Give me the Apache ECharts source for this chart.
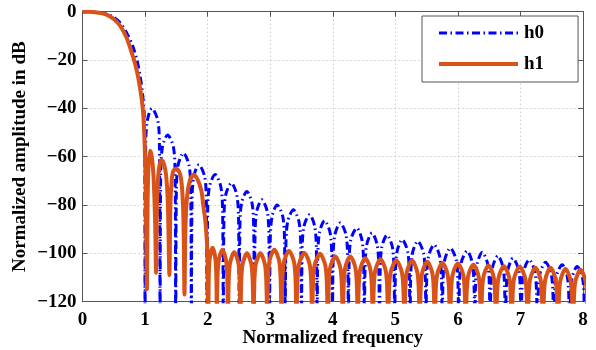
<!DOCTYPE html>
<html>
<head>
<meta charset="utf-8">
<script src="https://cdn.jsdelivr.net/npm/echarts@6/dist/echarts.min.js"></script>
<style>
html,body{margin:0;padding:0;background:#fff;}
#chart{width:596px;height:350px;}
</style>
</head>
<body>
<div id="chart"></div>
<script>
// ---- data ----
const seriesNames = ['h0', 'h1'];
const xRange = [0, 8];
const yRange = [-120, 0];

// h0 : [normalized frequency, dB]
const h0Points = [
  [0,0],[0.1,0],[0.2,-0.1],[0.3,-0.4],[0.4,-1.1],[0.5,-2.3],[0.6,-4.5],[0.7,-8.5],[0.8,-14],[0.87,-20],[0.92,-26.5],[0.96,-34],[0.985,-42],[0.995,-55],[1.0,-135],
  [1.0096,-56],[1.036,-45],[1.11,-40],[1.204,-45],[1.23,-56],[1.24,-135],
  [1.25,-67],[1.278,-56],[1.36,-51],[1.453,-56],[1.48,-67],[1.49,-135],
  [1.5,-74.5],[1.528,-63.5],[1.613,-58.5],[1.703,-63.5],[1.73,-74.5],[1.74,-135],
  [1.75,-79.3],[1.778,-68.3],[1.86,-63.3],[1.953,-68.3],[1.98,-79.3],[1.99,-135],
  [2.0,-83.4],[2.029,-72.4],[2.12,-67.4],[2.211,-72.4],[2.24,-83.4],[2.25,-135],
  [2.26,-86.9],[2.288,-75.9],[2.38,-70.9],[2.467,-75.9],[2.495,-86.9],[2.505,-135],
  [2.515,-90.4],[2.541,-79.4],[2.627,-74.4],[2.711,-79.4],[2.737,-90.4],[2.747,-135],
  [2.757,-93.8],[2.783,-82.8],[2.867,-77.8],[2.954,-82.8],[2.98,-93.8],[2.99,-135],
  [3.0,-96],[3.028,-85],[3.11,-80],[3.203,-85],[3.23,-96],[3.24,-135],
  [3.25,-98],[3.279,-87],[3.37,-82],[3.461,-87],[3.49,-98],[3.5,-135],
  [3.51,-100],[3.538,-89],[3.63,-84],[3.713,-89],[3.74,-100],[3.75,-135],
  [3.76,-102.5],[3.787,-91.5],[3.87,-86.5],[3.958,-91.5],[3.985,-102.5],[3.995,-135],
  [4.005,-103.4],[4.033,-92.4],[4.12,-87.4],[4.212,-92.4],[4.24,-103.4],[4.25,-135],
  [4.26,-105.5],[4.288,-94.5],[4.385,-89.5],[4.467,-94.5],[4.495,-105.5],[4.505,-135],
  [4.515,-107.6],[4.541,-96.6],[4.627,-91.6],[4.711,-96.6],[4.737,-107.6],[4.747,-135],
  [4.757,-108.5],[4.783,-97.5],[4.867,-92.5],[4.954,-97.5],[4.98,-108.5],[4.99,-135],
  [5.0,-110.3],[5.027,-99.3],[5.11,-94.3],[5.198,-99.3],[5.225,-110.3],[5.235,-135],
  [5.245,-111],[5.273,-100],[5.36,-95],[5.452,-100],[5.48,-111],[5.49,-135],
  [5.5,-112.4],[5.529,-101.4],[5.62,-96.4],[5.711,-101.4],[5.74,-112.4],[5.75,-135],
  [5.76,-113.8],[5.789,-102.8],[5.88,-97.8],[5.974,-102.8],[6.003,-113.8],[6.013,-135],
  [6.023,-115],[6.052,-104],[6.147,-99],[6.231,-104],[6.26,-115],[6.27,-135],
  [6.28,-115.5],[6.307,-104.5],[6.39,-99.5],[6.478,-104.5],[6.505,-115.5],[6.515,-135],
  [6.525,-117],[6.552,-106],[6.64,-101],[6.723,-106],[6.75,-117],[6.76,-135],
  [6.77,-118],[6.798,-107],[6.88,-102],[6.973,-107],[7.0,-118],[7.01,-135],
  [7.02,-118.6],[7.049,-107.6],[7.14,-102.6],[7.231,-107.6],[7.26,-118.6],[7.27,-135],
  [7.28,-119.7],[7.309,-108.7],[7.4,-103.7],[7.494,-108.7],[7.523,-119.7],[7.533,-135],
  [7.543,-120.7],[7.571,-109.7],[7.667,-104.7],[7.749,-109.7],[7.777,-120.7],[7.787,-135],
  [7.797,-121.4],[7.823,-110.4],[7.907,-105.4],[7.994,-110.4],[8.02,-121.4],[8.03,-135]
];

// h1 : [normalized frequency, dB]
const h1Points = [
  [0,0],[0.1,0],[0.2,-0.2],[0.3,-0.6],[0.4,-1.4],[0.5,-3],[0.6,-5.8],[0.7,-10.5],[0.8,-18],[0.85,-22.5],[0.9,-28.5],[0.95,-37],[0.975,-44],[0.995,-56],[1.01,-72],[1.022,-100],[1.03,-115],
  [1.04,-80],[1.055,-64],[1.08,-57.5],[1.105,-59.5],[1.133,-67],[1.16,-86],[1.176,-108],
  [1.19,-80],[1.21,-68],[1.235,-63],[1.265,-61.5],[1.3,-63],[1.336,-67.5],[1.365,-80],[1.389,-109],
  [1.405,-80],[1.425,-70],[1.45,-66],[1.497,-65],[1.54,-66],[1.575,-69],[1.603,-78],[1.618,-92],[1.63,-117],
  [1.645,-90],[1.667,-78],[1.71,-70.5],[1.775,-67.5],[1.84,-69.5],[1.9,-74],[1.93,-80],[1.965,-87],[1.99,-96],[2.0,-104],[2.01,-135],
  [2.0155,-113.7],[2.031,-102.7],[2.079,-97.7],[2.126,-102.7],[2.142,-113.7],[2.147,-135],
  [2.154,-114.5],[2.174,-103.5],[2.236,-98.5],[2.298,-103.5],[2.318,-114.5],[2.325,-135],
  [2.333,-115.5],[2.355,-104.5],[2.425,-99.5],[2.495,-104.5],[2.517,-115.5],[2.525,-135],
  [2.533,-116],[2.556,-105],[2.629,-100],[2.702,-105],[2.725,-116],[2.733,-135],
  [2.742,-116],[2.766,-105],[2.843,-100],[2.919,-105],[2.943,-116],[2.952,-135],
  [2.961,-114.5],[2.986,-103.5],[3.066,-98.5],[3.146,-103.5],[3.171,-114.5],[3.18,-135],
  [3.19,-115],[3.216,-104],[3.3,-99],[3.384,-104],[3.41,-115],[3.42,-135],
  [3.43,-115.8],[3.458,-104.8],[3.545,-99.8],[3.633,-104.8],[3.66,-115.8],[3.67,-135],
  [3.68,-116.2],[3.708,-105.2],[3.795,-100.2],[3.883,-105.2],[3.91,-116.2],[3.92,-135],
  [3.93,-117.3],[3.956,-106.3],[4.04,-101.3],[4.124,-106.3],[4.15,-117.3],[4.16,-135],
  [4.17,-117.3],[4.196,-106.3],[4.28,-101.3],[4.364,-106.3],[4.39,-117.3],[4.4,-135],
  [4.41,-118],[4.436,-107],[4.52,-102],[4.604,-107],[4.63,-118],[4.64,-135],
  [4.65,-118.4],[4.677,-107.4],[4.763,-102.4],[4.848,-107.4],[4.875,-118.4],[4.885,-135],
  [4.895,-119],[4.924,-108],[5.015,-103],[5.106,-108],[5.135,-119],[5.145,-135],
  [5.155,-119],[5.182,-108],[5.268,-103],[5.353,-108],[5.38,-119],[5.39,-135],
  [5.4,-119.5],[5.426,-108.5],[5.51,-103.5],[5.594,-108.5],[5.62,-119.5],[5.63,-135],
  [5.64,-120],[5.667,-109],[5.753,-104],[5.838,-109],[5.865,-120],[5.875,-135],
  [5.885,-120.2],[5.913,-109.2],[6.0,-104.2],[6.088,-109.2],[6.115,-120.2],[6.125,-135],
  [6.135,-120.7],[6.162,-109.7],[6.248,-104.7],[6.333,-109.7],[6.36,-120.7],[6.37,-135],
  [6.38,-121],[6.406,-110],[6.49,-105],[6.574,-110],[6.6,-121],[6.61,-135],
  [6.62,-121.3],[6.648,-110.3],[6.735,-105.3],[6.823,-110.3],[6.85,-121.3],[6.86,-135],
  [6.87,-121.5],[6.898,-110.5],[6.988,-105.5],[7.077,-110.5],[7.105,-121.5],[7.115,-135],
  [7.125,-122],[7.152,-111],[7.238,-106],[7.323,-111],[7.35,-122],[7.36,-135],
  [7.37,-122],[7.396,-111],[7.48,-106],[7.564,-111],[7.59,-122],[7.6,-135],
  [7.61,-122.5],[7.636,-111.5],[7.72,-106.5],[7.804,-111.5],[7.83,-122.5],[7.84,-135],
  [7.85,-122.8],[7.876,-111.8],[7.96,-106.8],[8.044,-111.8],[8.07,-122.8],[8.08,-135]
];

const xTitle = 'Normalized frequency';
const yTitle = 'Normalized amplitude in dB';

// ---- styles ----
const FONT = '"Liberation Serif", "Times New Roman", serif';
const axisColor = '#555';
const blue = '#0000ff';
const orange = '#d95319';
const dashDot = [8, 3.5, 1.5, 3.5];

const chart = echarts.init(document.getElementById('chart'), null, {renderer: 'canvas'});

const labelStyle = {fontFamily: FONT, fontWeight: 'bold', fontSize: 19, color: '#000'};
const minusFmt = v => (v < 0 ? '\u2212' + Math.abs(v) : String(v));

chart.setOption({
  backgroundColor: '#fff',
  animation: false,
  grid: {left: 82.5, right: 13, top: 11.7, bottom: 48.3, show: false, containLabel: false, outerBoundsMode: 'none'},
  legend: {
    show: true,
    orient: 'vertical',
    left: 422,
    top: 16,
    padding: [7, 34, 8, 15],
    itemWidth: 79,
    itemHeight: 14,
    itemGap: 11,
    backgroundColor: '#fff',
    borderColor: '#555',
    borderWidth: 1,
    textStyle: {fontFamily: FONT, fontWeight: 'bold', fontSize: 19, color: '#000', lineHeight: 20, padding: [0, 0, 0, 1]},
    data: [
      {name: seriesNames[0], lineStyle: {color: blue, width: 3, type: dashDot}, itemStyle: {opacity: 0, borderWidth: 0}},
      {name: seriesNames[1], lineStyle: {color: orange, width: 4, type: 'solid'}, itemStyle: {opacity: 0, borderWidth: 0}}
    ]
  },
  xAxis: [
    {
      type: 'value', min: xRange[0], max: xRange[1], interval: 1, position: 'bottom',
      axisLine: {show: true, onZero: false, lineStyle: {color: axisColor, width: 1}},
      axisTick: {show: true, inside: true, length: 5, lineStyle: {color: axisColor}},
      axisLabel: Object.assign({margin: 8.5, formatter: minusFmt}, labelStyle),
      splitLine: {show: true, lineStyle: {color: '#b4b4b4', width: 1, type: [1, 3]}},
      name: xTitle, nameLocation: 'middle', nameGap: 26.5, nameMoveOverlap: false,
      nameTextStyle: {fontFamily: FONT, fontWeight: 'bold', fontSize: 19, color: '#000'}
    },
    {
      type: 'value', min: xRange[0], max: xRange[1], interval: 1, position: 'top',
      axisLine: {show: true, onZero: false, lineStyle: {color: axisColor, width: 1}},
      axisTick: {show: true, inside: true, length: 5, lineStyle: {color: axisColor}},
      axisLabel: {show: false}, splitLine: {show: false}
    }
  ],
  yAxis: [
    {
      type: 'value', min: yRange[0], max: yRange[1], interval: 20, position: 'left',
      axisLine: {show: true, onZero: false, lineStyle: {color: axisColor, width: 1}},
      axisTick: {show: true, inside: true, length: 5, lineStyle: {color: axisColor}},
      axisLabel: Object.assign({margin: 6, formatter: minusFmt}, labelStyle),
      splitLine: {show: true, lineStyle: {color: '#b4b4b4', width: 1, type: [1, 3]}},
      name: yTitle, nameLocation: 'middle', nameGap: 53, nameRotate: 90, nameMoveOverlap: false,
      nameTextStyle: {fontFamily: FONT, fontWeight: 'bold', fontSize: 19, color: '#000'}
    },
    {
      type: 'value', min: yRange[0], max: yRange[1], interval: 20, position: 'right',
      axisLine: {show: true, onZero: false, lineStyle: {color: axisColor, width: 1}},
      axisTick: {show: true, inside: true, length: 5, lineStyle: {color: axisColor}},
      axisLabel: {show: false}, splitLine: {show: false}
    }
  ],
  series: [
    {
      name: seriesNames[0], type: 'line', data: h0Points, xAxisIndex: 0, yAxisIndex: 0,
      symbol: 'none', showSymbol: false, smooth: 0.3, clip: true,
      lineStyle: {color: blue, width: 3, type: dashDot},
      itemStyle: {color: blue}, z: 2
    },
    {
      name: seriesNames[1], type: 'line', data: h1Points, xAxisIndex: 0, yAxisIndex: 0,
      symbol: 'none', showSymbol: false, smooth: 0.3, clip: true,
      lineStyle: {color: orange, width: 4},
      itemStyle: {color: orange}, z: 3
    }
  ]
});
</script>
</body>
</html>
